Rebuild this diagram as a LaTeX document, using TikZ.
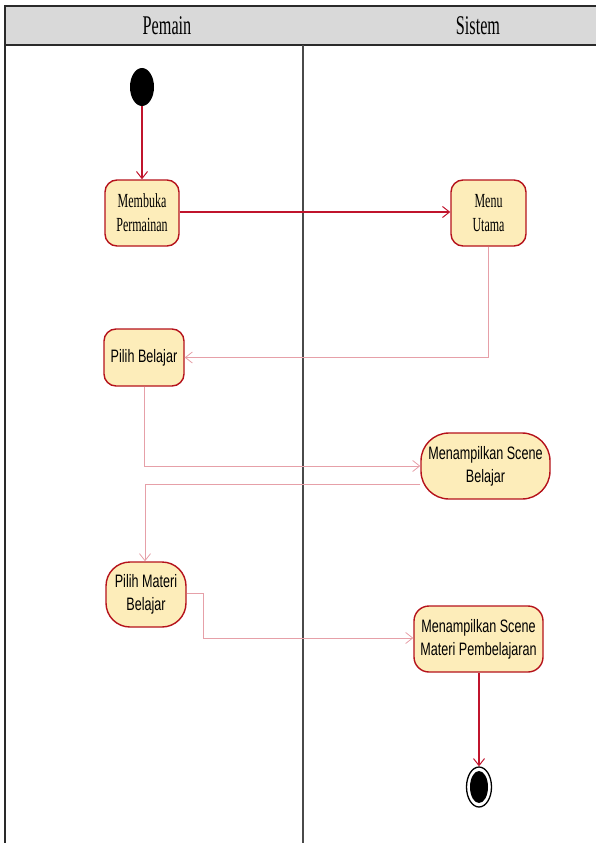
\documentclass[tikz,border=0pt]{standalone}
\usepackage{fontspec}
\setmainfont{Liberation Serif}[FakeStretch=0.6]
\newfontfamily\sansnode{Liberation Sans}[FakeStretch=0.7]
\usetikzlibrary{arrows.meta,shapes.geometric}

\definecolor{lanegray}{HTML}{D9D9D9}
\definecolor{frameline}{HTML}{2A2A2A}
\definecolor{actborder}{HTML}{B5121B}
\definecolor{actfill}{HTML}{FDEDBA}
\definecolor{flowdark}{HTML}{C0142C}
\definecolor{flowlight}{HTML}{E6A0A8}

\tikzset{
  activity/.style={draw=actborder, fill=actfill, line width=1.4pt,
    inner sep=0pt, align=center},
  serifact/.style={activity, font=\fontsize{20}{24}\selectfont\rmfamily},
  sansact/.style={activity, font=\fontsize{18}{23}\selectfont\sansnode},
  flowmain/.style={draw=flowdark, line width=1.4pt,
    -{Straight Barb[length=7pt,width=11pt,line width=1pt]}},
  flowthin/.style={draw=flowlight, line width=0.8pt,
    -{Straight Barb[length=7pt,width=11pt,line width=0.8pt]}},
  lanetitle/.style={font=\fontsize{27}{30}\selectfont\rmfamily, inner sep=0pt}
}

\begin{document}
\begin{tikzpicture}[x=1pt, y=-1pt]
  \useasboundingbox (0,0) rectangle (596,843);

  % swimlane frame
  \fill[lanegray] (5,6) rectangle (600,45);
  \draw[frameline, line width=2pt] (4,6) -- (600,6);
  \draw[frameline, line width=2pt] (4,45) -- (600,45);
  \draw[frameline, line width=1.3pt] (5,5) -- (5,845);
  \draw[frameline!85, line width=1.4pt] (303,45) -- (303,845);
  \node[lanetitle, anchor=base] (lanePemain) at (167,34.5) {Pemain};
  \node[lanetitle, anchor=base] (laneSistem) at (478,34.5) {Sistem};

  % start and end
  \node[fill=black, ellipse, minimum width=24pt, minimum height=38pt, inner sep=0pt] (start) at (142,87) {};
  \node[draw=black, line width=1.3pt, fill=white, ellipse, minimum width=25pt, minimum height=40pt, inner sep=0pt] (finish) at (479,787) {};
  \node[fill=black, ellipse, minimum width=18pt, minimum height=32pt, inner sep=0pt] (finishdot) at (479,787) {};

  % activities
  \node[serifact, rounded corners=12pt, minimum width=74pt, minimum height=66pt] (membuka) at (142,213) {Membuka\\Permainan};
  \node[serifact, rounded corners=12pt, minimum width=75pt, minimum height=66pt] (menu) at (488.5,213) {Menu\\Utama};
  \node[sansact, rounded corners=12pt, minimum width=80pt, minimum height=57pt] (pilihb) at (144,357.5) {Pilih Belajar};
  \node[sansact, rounded corners=28pt, minimum width=129pt, minimum height=66pt] (sceneb) at (485.5,466) {Menampilkan Scene\\Belajar};
  \node[sansact, rounded corners=24pt, minimum width=80pt, minimum height=65pt] (pilihm) at (146,594.5) {Pilih Materi\\Belajar};
  \node[sansact, rounded corners=15pt, minimum width=129pt, minimum height=66pt] (scenem) at (478.5,639) {Menampilkan Scene\\Materi Pembelajaran};

  % control flow (yshift acts on the page, positive is upwards)
  \draw[flowmain] (start) -- (membuka);
  \draw[flowmain] ([yshift=1pt]membuka.east) -- ([yshift=1pt]menu.west);
  \draw[flowthin] (menu.south) |- (pilihb.east);
  \draw[flowthin] (pilihb.south) |- (sceneb.west);
  \draw[flowthin] ([yshift=-18pt]sceneb.west) -| ([xshift=-1pt]pilihm.north);
  \draw[flowthin] ([yshift=1.5pt]pilihm.east) -- ++(17,0) |- ([yshift=1pt]scenem.west);
  \draw[flowmain] ([xshift=0.5pt]scenem.south) -- (finish.north);
\end{tikzpicture}
\end{document}
